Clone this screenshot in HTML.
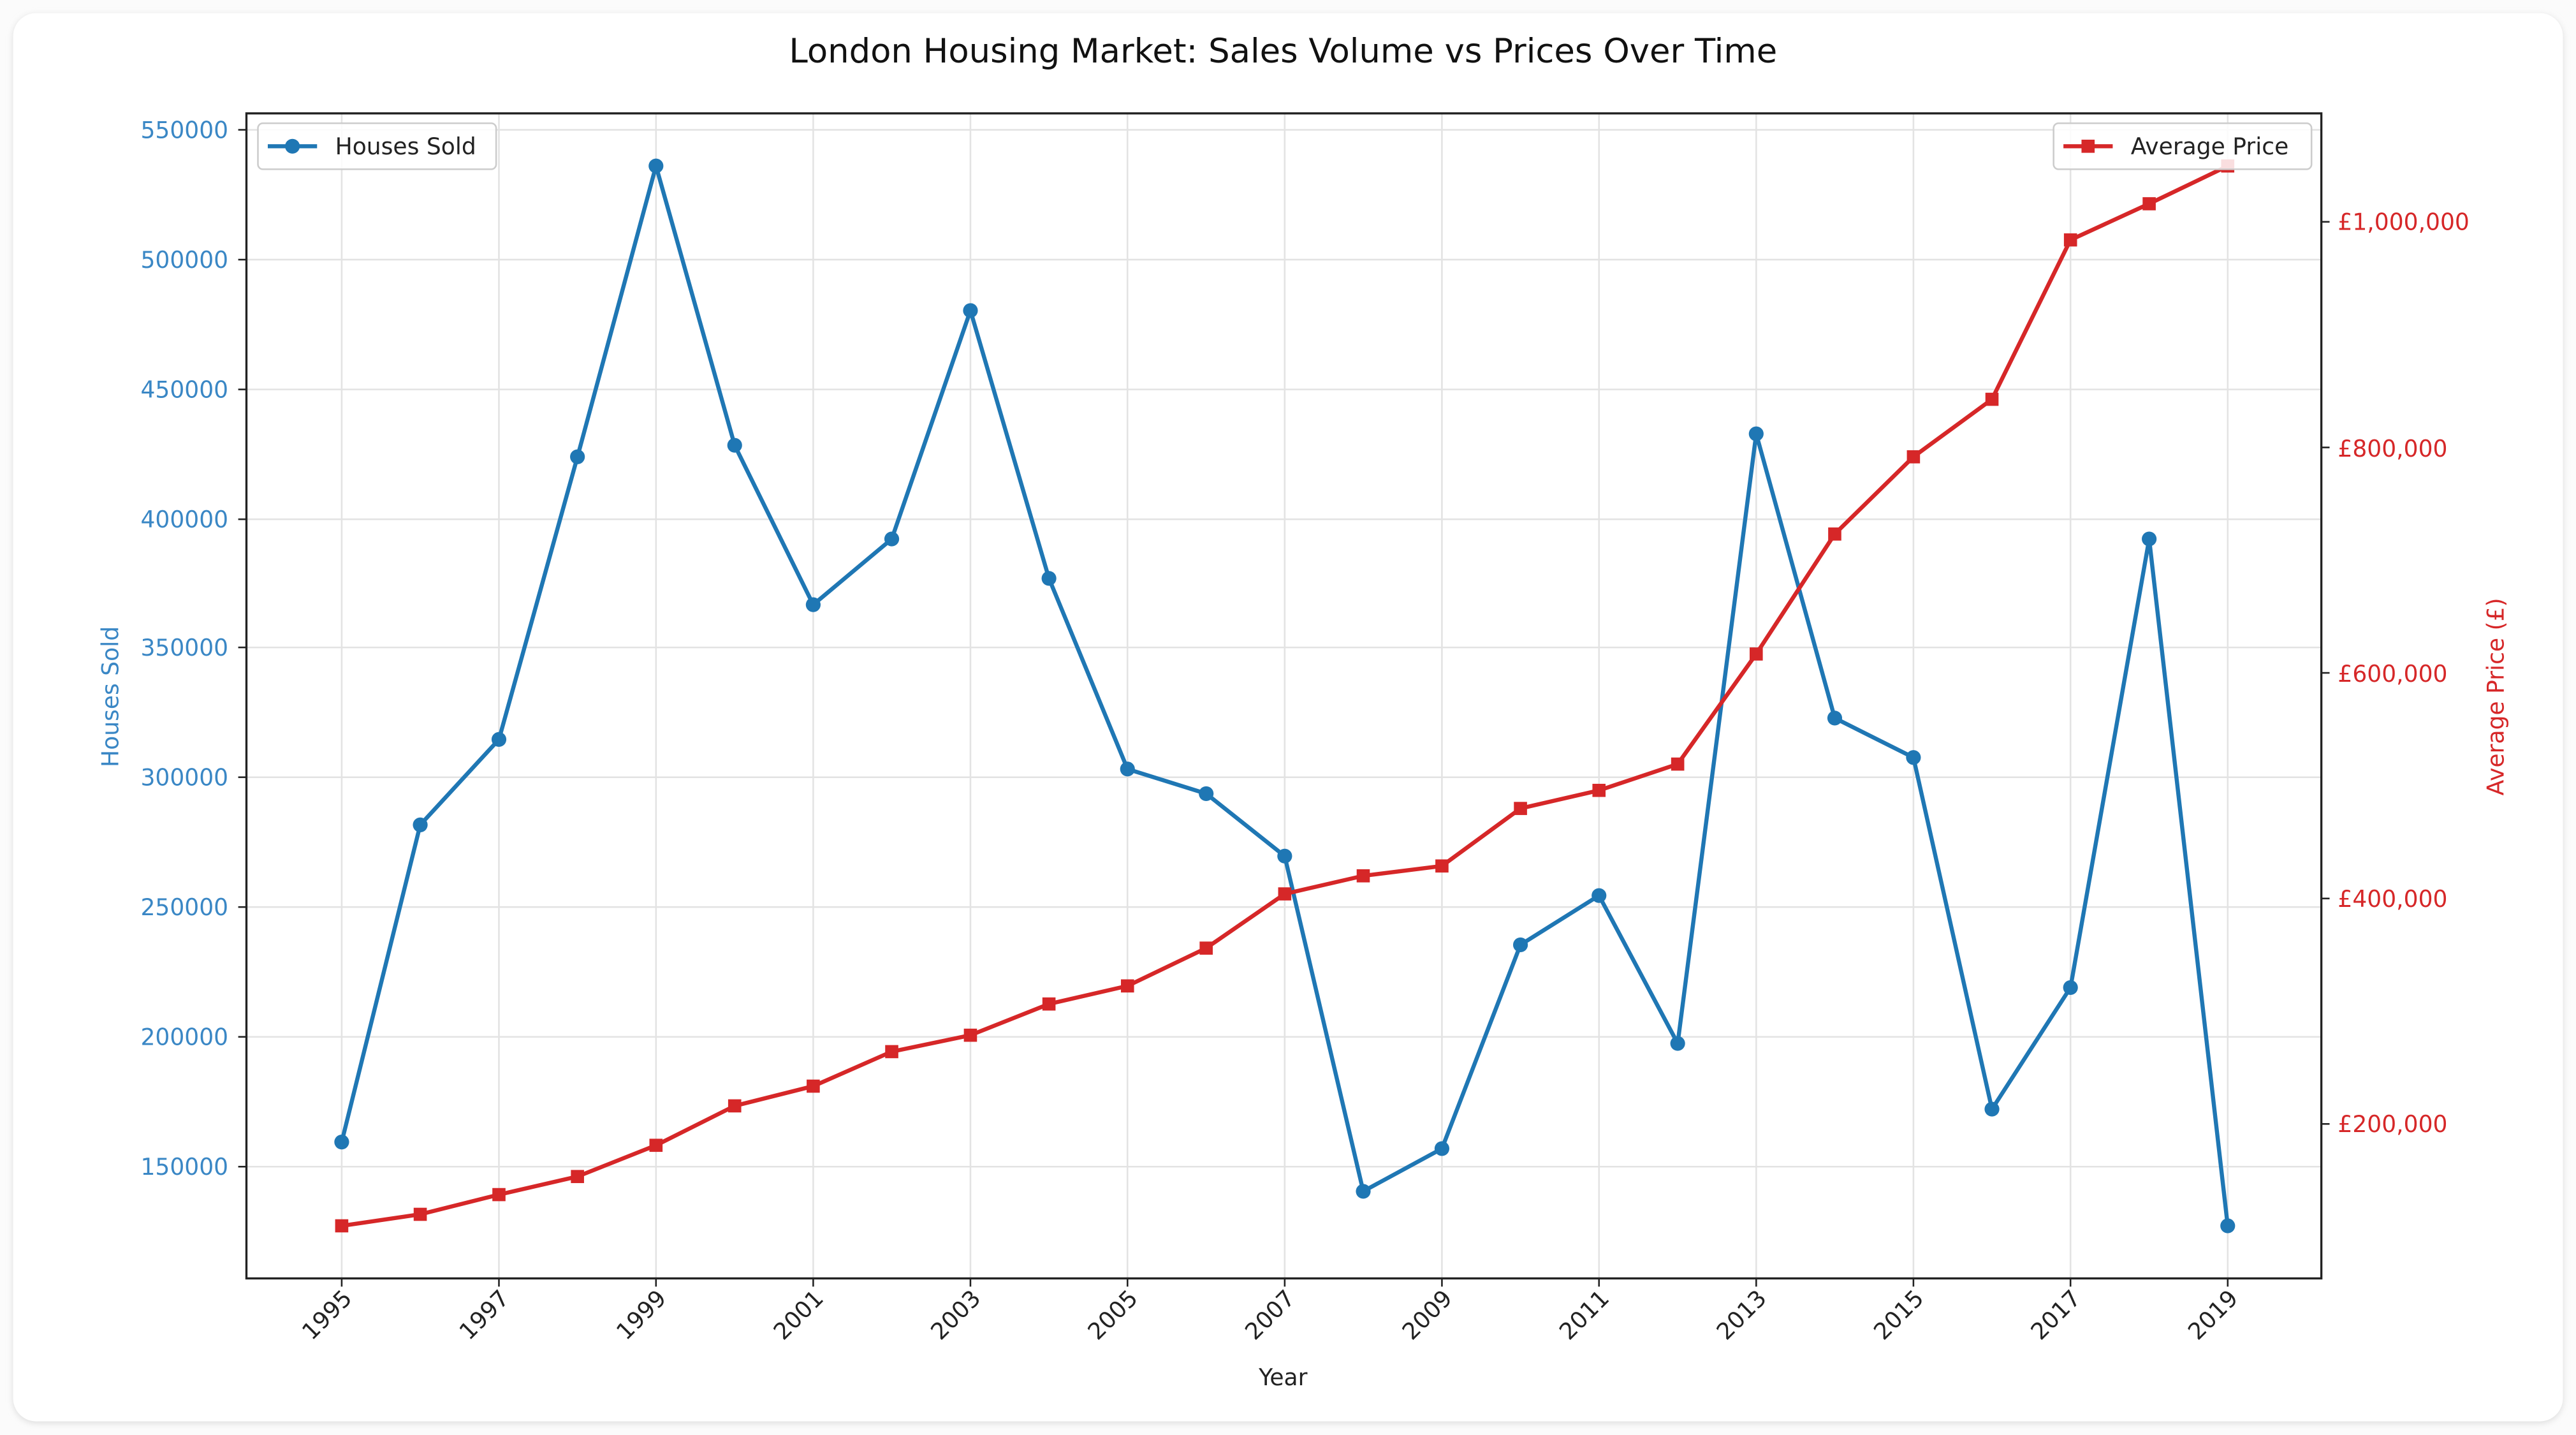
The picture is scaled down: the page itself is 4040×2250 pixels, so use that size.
<!DOCTYPE html>
<html><head><meta charset="utf-8"><style>
html,body{margin:0;padding:0;background:#fff;width:4040px;height:2250px;overflow:hidden}
svg{display:block}
text{font-family:"DejaVu Sans","Liberation Sans",sans-serif}
</style></head><body>
<svg width="4040" height="2250" viewBox="0 0 1568 873.3" preserveAspectRatio="none">
<defs><filter id="sh" x="-5%" y="-5%" width="110%" height="110%"><feGaussianBlur stdDeviation="2"/></filter></defs>
<rect x="0" y="0" width="1568" height="873.3" fill="#fbfbfb"/>
<rect x="8" y="9" width="1552" height="857" rx="14" fill="#dcdcdc" filter="url(#sh)"/>
<rect x="8" y="8" width="1552" height="857" rx="14" fill="#fff"/>
<text x="781" y="38" text-anchor="middle" font-size="20.5" fill="#111">London Housing Market: Sales Volume vs Prices Over Time</text>
<g stroke="#e3e3e3" stroke-width="1">
<line x1="150" x2="1413" y1="79" y2="79"/><line x1="150" x2="1413" y1="158" y2="158"/><line x1="150" x2="1413" y1="237" y2="237"/><line x1="150" x2="1413" y1="316" y2="316"/><line x1="150" x2="1413" y1="394" y2="394"/><line x1="150" x2="1413" y1="473" y2="473"/><line x1="150" x2="1413" y1="552" y2="552"/><line x1="150" x2="1413" y1="631" y2="631"/><line x1="150" x2="1413" y1="710" y2="710"/>
<line y1="69" y2="778" x1="208" x2="208"/><line y1="69" y2="778" x1="303.7" x2="303.7"/><line y1="69" y2="778" x1="399.3" x2="399.3"/><line y1="69" y2="778" x1="495" x2="495"/><line y1="69" y2="778" x1="590.7" x2="590.7"/><line y1="69" y2="778" x1="686.3" x2="686.3"/><line y1="69" y2="778" x1="782" x2="782"/><line y1="69" y2="778" x1="877.7" x2="877.7"/><line y1="69" y2="778" x1="973.3" x2="973.3"/><line y1="69" y2="778" x1="1069" x2="1069"/><line y1="69" y2="778" x1="1164.7" x2="1164.7"/><line y1="69" y2="778" x1="1260.3" x2="1260.3"/><line y1="69" y2="778" x1="1356" x2="1356"/>
</g>
<rect x="150" y="69" width="1263" height="709" fill="none" stroke="#222" stroke-width="1.3"/>
<g font-size="14" fill="#3a87c5" text-anchor="end">
<text x="139" y="84">550000</text><text x="139" y="163">500000</text><text x="139" y="242">450000</text><text x="139" y="321">400000</text><text x="139" y="399">350000</text><text x="139" y="478">300000</text><text x="139" y="557">250000</text><text x="139" y="636">200000</text><text x="139" y="715">150000</text>
</g>
<g stroke="#222"><line x1="145" x2="150" y1="79" y2="79"/><line x1="145" x2="150" y1="158" y2="158"/><line x1="145" x2="150" y1="237" y2="237"/><line x1="145" x2="150" y1="316" y2="316"/><line x1="145" x2="150" y1="394" y2="394"/><line x1="145" x2="150" y1="473" y2="473"/><line x1="145" x2="150" y1="552" y2="552"/><line x1="145" x2="150" y1="631" y2="631"/><line x1="145" x2="150" y1="710" y2="710"/>
<line x1="1413" x2="1418" y1="135" y2="135"/><line x1="1413" x2="1418" y1="272.3" y2="272.3"/><line x1="1413" x2="1418" y1="409.5" y2="409.5"/><line x1="1413" x2="1418" y1="546.8" y2="546.8"/><line x1="1413" x2="1418" y1="684" y2="684"/></g>
<g font-size="14" fill="#d62728">
<text x="1423" y="140">£1,000,000</text><text x="1423" y="278">£800,000</text><text x="1423" y="415">£600,000</text><text x="1423" y="552">£400,000</text><text x="1423" y="689">£200,000</text>
</g>
<text transform="translate(72,424) rotate(-90)" text-anchor="middle" font-size="14" fill="#3a87c5">Houses Sold</text>
<text transform="translate(1524,424) rotate(-90)" text-anchor="middle" font-size="14" fill="#d62728">Average Price (£)</text>
<text x="781" y="843" text-anchor="middle" font-size="14" fill="#222">Year</text>
<g font-size="14" fill="#222" text-anchor="end">
<text transform="translate(215,791) rotate(-45)">1995</text><text transform="translate(310.7,791) rotate(-45)">1997</text><text transform="translate(406.3,791) rotate(-45)">1999</text><text transform="translate(502,791) rotate(-45)">2001</text><text transform="translate(597.7,791) rotate(-45)">2003</text><text transform="translate(693.3,791) rotate(-45)">2005</text><text transform="translate(789,791) rotate(-45)">2007</text><text transform="translate(884.7,791) rotate(-45)">2009</text><text transform="translate(980.3,791) rotate(-45)">2011</text><text transform="translate(1076,791) rotate(-45)">2013</text><text transform="translate(1171.7,791) rotate(-45)">2015</text><text transform="translate(1267.3,791) rotate(-45)">2017</text><text transform="translate(1363,791) rotate(-45)">2019</text>
</g>
<g stroke="#222"><line y1="778" y2="783" x1="208" x2="208"/><line y1="778" y2="783" x1="303.7" x2="303.7"/><line y1="778" y2="783" x1="399.3" x2="399.3"/><line y1="778" y2="783" x1="495" x2="495"/><line y1="778" y2="783" x1="590.7" x2="590.7"/><line y1="778" y2="783" x1="686.3" x2="686.3"/><line y1="778" y2="783" x1="782" x2="782"/><line y1="778" y2="783" x1="877.7" x2="877.7"/><line y1="778" y2="783" x1="973.3" x2="973.3"/><line y1="778" y2="783" x1="1069" x2="1069"/><line y1="778" y2="783" x1="1164.7" x2="1164.7"/><line y1="778" y2="783" x1="1260.3" x2="1260.3"/><line y1="778" y2="783" x1="1356" x2="1356"/></g>
<polyline fill="none" stroke="#1f77b4" stroke-width="2.5" points="208,695 255.8,502 303.7,450 351.5,278 399.3,101 447.2,271 495,368 542.8,328 590.7,189 638.5,352 686.3,468 734.2,483 782,521 829.8,725 877.7,699 925.5,575 973.3,545 1021.2,635 1069,264 1116.8,437 1164.7,461 1212.5,675 1260.3,601 1308.2,328 1356,746"/>
<g fill="#1f77b4">
<circle cx="208" cy="695" r="4.5"/><circle cx="255.8" cy="502" r="4.5"/><circle cx="303.7" cy="450" r="4.5"/><circle cx="351.5" cy="278" r="4.5"/><circle cx="399.3" cy="101" r="4.5"/><circle cx="447.2" cy="271" r="4.5"/><circle cx="495" cy="368" r="4.5"/><circle cx="542.8" cy="328" r="4.5"/><circle cx="590.7" cy="189" r="4.5"/><circle cx="638.5" cy="352" r="4.5"/><circle cx="686.3" cy="468" r="4.5"/><circle cx="734.2" cy="483" r="4.5"/><circle cx="782" cy="521" r="4.5"/><circle cx="829.8" cy="725" r="4.5"/><circle cx="877.7" cy="699" r="4.5"/><circle cx="925.5" cy="575" r="4.5"/><circle cx="973.3" cy="545" r="4.5"/><circle cx="1021.2" cy="635" r="4.5"/><circle cx="1069" cy="264" r="4.5"/><circle cx="1116.8" cy="437" r="4.5"/><circle cx="1164.7" cy="461" r="4.5"/><circle cx="1212.5" cy="675" r="4.5"/><circle cx="1260.3" cy="601" r="4.5"/><circle cx="1308.2" cy="328" r="4.5"/><circle cx="1356" cy="746" r="4.5"/>
</g>
<polyline fill="none" stroke="#d62728" stroke-width="2.5" points="208,746 255.8,739 303.7,727 351.5,716 399.3,697 447.2,673 495,661 542.8,640 590.7,630 638.5,611 686.3,600 734.2,577 782,544 829.8,533 877.7,527 925.5,492 973.3,481 1021.2,465 1069,398 1116.8,325 1164.7,278 1212.5,243 1260.3,146 1308.2,124 1356,101"/>
<g fill="#d62728">
<rect x="204" y="742" width="8" height="8"/><rect x="251.8" y="735" width="8" height="8"/><rect x="299.7" y="723" width="8" height="8"/><rect x="347.5" y="712" width="8" height="8"/><rect x="395.3" y="693" width="8" height="8"/><rect x="443.2" y="669" width="8" height="8"/><rect x="491" y="657" width="8" height="8"/><rect x="538.8" y="636" width="8" height="8"/><rect x="586.7" y="626" width="8" height="8"/><rect x="634.5" y="607" width="8" height="8"/><rect x="682.3" y="596" width="8" height="8"/><rect x="730.2" y="573" width="8" height="8"/><rect x="778" y="540" width="8" height="8"/><rect x="825.8" y="529" width="8" height="8"/><rect x="873.7" y="523" width="8" height="8"/><rect x="921.5" y="488" width="8" height="8"/><rect x="969.3" y="477" width="8" height="8"/><rect x="1017.2" y="461" width="8" height="8"/><rect x="1065" y="394" width="8" height="8"/><rect x="1112.8" y="321" width="8" height="8"/><rect x="1160.7" y="274" width="8" height="8"/><rect x="1208.5" y="239" width="8" height="8"/><rect x="1256.3" y="142" width="8" height="8"/><rect x="1304.2" y="120" width="8" height="8"/><rect x="1352" y="97" width="8" height="8"/>
</g>
<rect x="157" y="75" width="145" height="28" rx="3" fill="#fff" fill-opacity="0.85" stroke="#ccc"/>
<line x1="163" x2="193" y1="89" y2="89" stroke="#1f77b4" stroke-width="2.5"/><circle cx="178" cy="89" r="4.5" fill="#1f77b4"/>
<text x="204" y="94" font-size="14" fill="#222">Houses Sold</text>
<rect x="1250" y="75" width="157" height="28" rx="3" fill="#fff" fill-opacity="0.85" stroke="#ccc"/>
<line x1="1256" x2="1286" y1="89" y2="89" stroke="#d62728" stroke-width="2.5"/><rect x="1267" y="85" width="8" height="8" fill="#d62728"/>
<text x="1297" y="94" font-size="14" fill="#222">Average Price</text>
</svg>
</body></html>
